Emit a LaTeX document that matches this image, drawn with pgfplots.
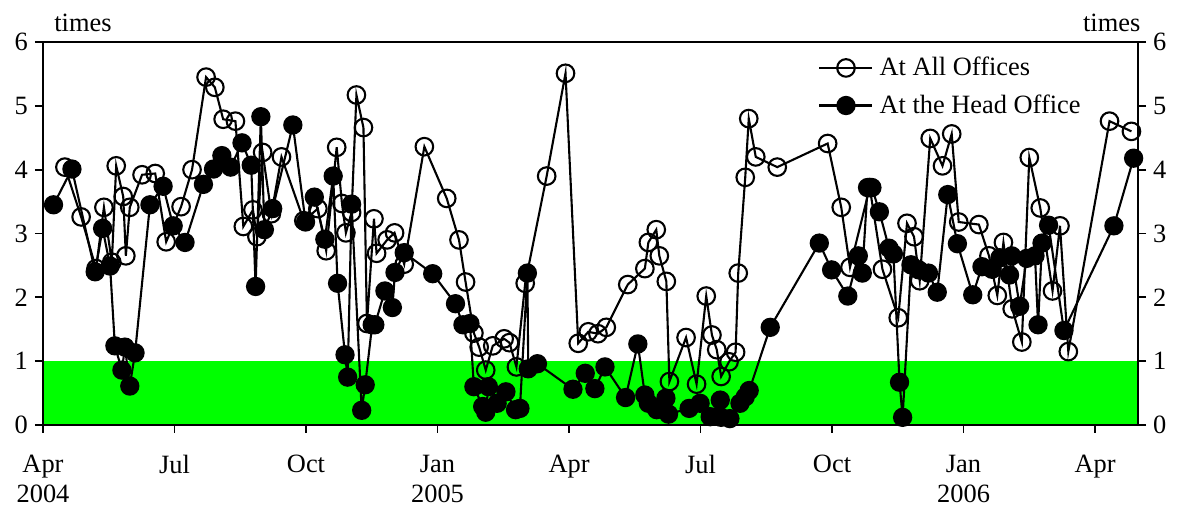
\documentclass[border=0pt]{standalone}
\usepackage{fontspec}
\setmainfont{Liberation Serif}
\usepackage{pgfplots}
\usepackage{pgfplotstable}
\pgfplotsset{compat=1.18}
\definecolor{brightgreen}{RGB}{0,255,0}

% x = months since 1 April 2004
\pgfplotstableread{
x y
0.50 4.04
0.87 3.26
1.21 2.45
1.39 3.41
1.57 2.55
1.67 4.06
1.83 3.58
1.89 2.65
1.98 3.41
2.26 3.92
2.56 3.94
2.81 2.87
3.15 3.42
3.40 4.00
3.72 5.45
3.92 5.29
4.11 4.79
4.39 4.76
4.57 3.11
4.79 3.37
4.88 2.95
5.01 4.27
5.21 3.31
5.44 4.20
5.95 3.20
6.27 3.39
6.46 2.73
6.70 4.35
6.82 3.47
6.91 3.01
7.04 3.33
7.15 5.17
7.31 4.66
7.39 1.59
7.55 3.23
7.61 2.69
7.85 2.90
8.02 3.01
8.24 2.52
8.70 4.36
9.21 3.55
9.49 2.90
9.64 2.24
9.83 1.44
9.95 1.22
10.10 0.86
10.26 1.24
10.52 1.35
10.64 1.29
10.80 0.91
11.00 2.22
11.49 3.90
11.92 5.51
12.21 1.28
12.44 1.46
12.66 1.43
12.85 1.53
13.34 2.20
13.73 2.45
13.81 2.86
13.99 3.06
14.06 2.65
14.22 2.25
14.29 0.68
14.67 1.37
14.91 0.64
15.13 2.02
15.26 1.41
15.37 1.18
15.47 0.76
15.65 0.99
15.80 1.14
15.86 2.38
16.02 3.88
16.10 4.80
16.26 4.20
16.75 4.04
17.90 4.41
18.21 3.41
18.41 2.47
18.86 3.72
19.15 2.44
19.51 1.68
19.71 3.16
19.87 2.95
20.00 2.26
20.24 4.49
20.52 4.06
20.73 4.56
20.89 3.18
21.35 3.14
21.58 2.65
21.77 2.03
21.91 2.86
22.11 1.82
22.33 1.30
22.50 4.19
22.75 3.40
23.03 2.10
23.20 3.12
23.39 1.15
24.33 4.76
24.83 4.60
}\allofc

\pgfplotstableread{
x y
0.24 3.45
0.66 4.01
1.19 2.40
1.36 3.08
1.53 2.49
1.64 1.24
1.80 0.86
1.87 1.22
1.98 0.61
2.10 1.13
2.44 3.45
2.74 3.74
2.97 3.12
3.24 2.86
3.66 3.77
3.89 4.01
4.08 4.22
4.28 4.04
4.54 4.42
4.75 4.07
4.85 2.17
4.97 4.83
5.05 3.06
5.24 3.39
5.70 4.70
5.99 3.18
6.19 3.57
6.43 2.91
6.62 3.90
6.72 2.22
6.89 1.10
6.95 0.75
7.04 3.46
7.27 0.23
7.35 0.63
7.51 1.57
7.57 1.57
7.80 2.10
7.97 1.84
8.03 2.39
8.24 2.70
8.89 2.37
9.41 1.90
9.58 1.57
9.74 1.59
9.83 0.60
10.03 0.29
10.10 0.20
10.16 0.60
10.36 0.34
10.56 0.52
10.78 0.24
10.88 0.26
11.05 2.38
11.07 0.88
11.28 0.96
12.09 0.56
12.37 0.81
12.59 0.57
12.82 0.91
13.29 0.43
13.57 1.27
13.73 0.47
13.81 0.34
14.00 0.24
14.21 0.42
14.27 0.17
14.74 0.26
14.99 0.34
15.22 0.13
15.45 0.39
15.47 0.12
15.67 0.10
15.90 0.34
16.02 0.44
16.11 0.54
16.59 1.53
17.71 2.85
17.99 2.43
18.36 2.02
18.60 2.65
18.69 2.38
18.81 3.72
18.91 3.72
19.08 3.34
19.30 2.77
19.40 2.68
19.54 0.67
19.61 0.12
19.80 2.51
19.98 2.43
20.20 2.38
20.40 2.08
20.64 3.61
20.86 2.84
21.21 2.04
21.42 2.48
21.65 2.44
21.83 2.62
22.05 2.35
22.10 2.65
22.28 1.86
22.44 2.61
22.63 2.65
22.70 1.57
22.79 2.85
22.94 3.13
23.29 1.48
24.43 3.12
24.88 4.18
}\headofc

\begin{document}
\begin{tikzpicture}[font=\fontsize{13.2pt}{15pt}\selectfont]
\useasboundingbox (-21.5pt,-44pt) rectangle (567.5pt,212.5pt);
\begin{axis}[
  scale only axis, width=547.5pt, height=191.5pt,
  xmin=0, xmax=24.98, ymin=0, ymax=6,
  clip=false,
  axis line style={line width=1.1pt},
  xtick={0,3,...,24},
  xticklabels={Apr\\2004, Jul, Oct, Jan\\2005, Apr, Jul, Oct, Jan\\2006, Apr},
  xticklabel style={align=center, anchor=north, yshift=-7.5pt},
  ytick={0,1,...,6},
  xtick pos=bottom, ytick pos=left,
  tick align=outside,
  major tick length=4pt,
  tick style={line width=0.9pt, black},
  /pgf/number format/assume math mode=true,
  axis on top,
  legend style={at={(rel axis cs:0.7078,0.972)}, anchor=north west, draw=none, fill=none,
    inner xsep=0pt, inner ysep=0pt, row sep=4pt,
    nodes={inner xsep=3pt, inner ysep=2pt}},
  legend cell align=left,
  legend image code/.code={\draw[mark repeat=2,mark phase=2,#1] plot coordinates {(0pt,0pt) (13.25pt,0pt) (26.5pt,0pt)};},
]
\addplot[draw=none, fill=brightgreen, forget plot] coordinates {(0,1) (24.98,1)} \closedcycle;
\addplot[black, line width=1.05pt, mark=o, mark size=4.4pt] table[x=x,y=y] {\allofc};
\addlegendentry{At All Offices}
\addplot[black, line width=1.05pt, mark=*, mark size=4.3pt, mark options={fill=black}] table[x=x,y=y] {\headofc};
\addlegendentry{At the Head Office}
\node[anchor=base] at (rel axis cs:0.0365,1) [yshift=5.2pt] {times};
\node[anchor=base] at (rel axis cs:0.976,1) [yshift=5.2pt] {times};
\end{axis}
\begin{axis}[
  scale only axis, width=547.5pt, height=191.5pt,
  xmin=0, xmax=24.98, ymin=0, ymax=6,
  axis x line=none, axis y line*=right,
  axis line style={line width=1.1pt, -},
  ytick={0,1,...,6},
  tick align=outside,
  major tick length=4pt,
  tick style={line width=0.9pt, black},
  /pgf/number format/assume math mode=true,
]
\addplot[draw=none] coordinates {(0,0)};
\end{axis}
\end{tikzpicture}
\end{document}
